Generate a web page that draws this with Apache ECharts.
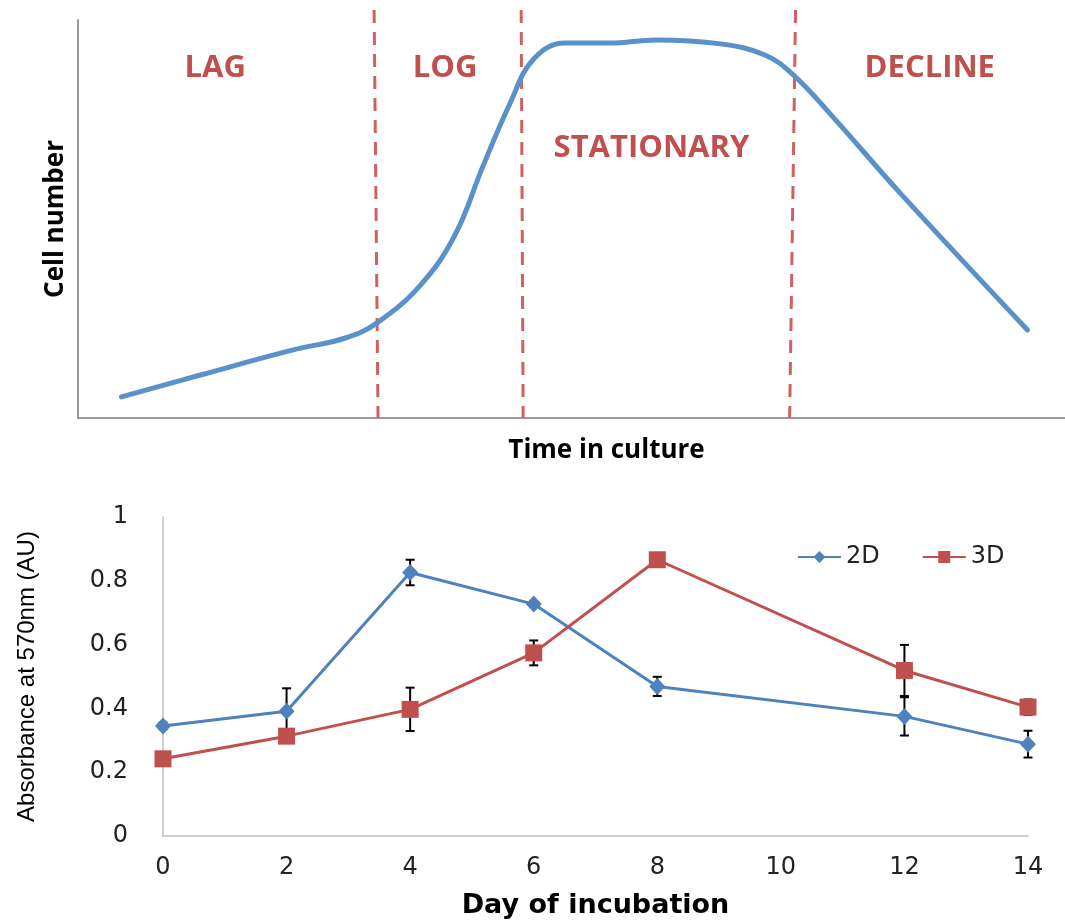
<!DOCTYPE html>
<html><head><meta charset="utf-8">
<script src="https://cdn.jsdelivr.net/npm/echarts@6/dist/echarts.min.js"></script>
<style>html,body{margin:0;padding:0;background:#fff}#c{width:1065px;height:920px}</style>
</head><body><div id="c"></div>
<script>
// ---- Top schematic: growth curve (arbitrary units, time 0-100, cell number 0-100)
const curveTime  = [4.4,12.4,21.8,27.1,30.3,34.7,38.2,41.0,43.8,46.1,49.3,53.9,58.5,65.1,69.6,72.6,76.5,83.3,96.2];
const curveCells = [5.3,10.8,17.1,20.1,23.9,33.4,46.0,63.1,79.2,90.0,94.2,94.2,95.0,94.0,91.2,85.9,75.6,56.5,22.1];
const phaseNames = ['LAG','LOG','STATIONARY','DECLINE'];
const phaseLabelTime = [13.9,37.2,58.1,86.3];
const phaseLabelCells = [87.9,87.9,67.8,87.9];
const boundaryTop = [30.0,44.9,72.7];
const boundaryBottom = [30.4,45.1,72.1];

// ---- Bottom chart: absorbance vs day
const days = [0,2,4,6,8,12,14];
const abs2D = [0.345,0.391,0.826,0.727,0.469,0.375,0.288];
const err2D = [0.010,0.072,0.040,0.008,0.030,0.060,0.042];
const abs3D = [0.242,0.313,0.397,0.574,0.866,0.519,0.404];
const err3D = [0.020,0.018,0.068,0.039,0.004,0.080,0.024];

const RED = '#C0504D', BLUE = '#4F81BD', DASH = '#D0615E';

function pairs(xs, ys){ return xs.map((x,i)=>[x, ys[i]]); }
function errData(xs, ys, es){ return xs.map((x,i)=>[x, ys[i], es[i]]); }
function errRender(params, api){
  const x = api.value(0), m = api.value(1), e = api.value(2);
  const top = api.coord([x, m+e]), bot = api.coord([x, m-e]);
  const w = 4.5;
  const st = {stroke:'#000', lineWidth:2};
  return {type:'group', children:[
    {type:'line', shape:{x1:top[0],y1:top[1],x2:bot[0],y2:bot[1]}, style:st},
    {type:'line', shape:{x1:top[0]-w,y1:top[1],x2:top[0]+w,y2:top[1]}, style:st},
    {type:'line', shape:{x1:bot[0]-w,y1:bot[1],x2:bot[0]+w,y2:bot[1]}, style:st}
  ]};
}

const boundarySeries = boundaryTop.map((t,i)=>({
  type:'line', xAxisIndex:0, yAxisIndex:0, clip:false, symbol:'none', silent:true,
  data:[[t,102.5],[boundaryBottom[i],0]],
  lineStyle:{color:DASH, width:3, type:[13,9]}, z:3
}));

const chart = echarts.init(document.getElementById('c'));
chart.setOption({
  animation:false,
  grid:[
    {left:78, top:20, width:987, height:398},
    {left:163, top:517, width:865, height:319}
  ],
  legend:{
    data:['2D','3D'], left:792, top:540, itemWidth:43, itemHeight:15, itemGap:42,
    textStyle:{fontFamily:'DejaVu Sans', fontSize:24, color:'#222'}
  },
  xAxis:[
    {gridIndex:0, type:'value', min:0, max:100, axisTick:{show:false}, axisLabel:{show:false}, splitLine:{show:false},
     axisLine:{lineStyle:{color:'#9a9a9a', width:2}},
     name:'Time in culture', nameLocation:'middle', nameGap:20,
     nameTextStyle:{fontFamily:'Open Sans', fontWeight:'bold', fontSize:26, color:'#000', padding:[0,0,0,70]}},
    {gridIndex:1, type:'value', min:0, max:14, interval:2, splitLine:{show:false}, axisTick:{show:false},
     axisLine:{lineStyle:{color:'#bfbfbf', width:1.5}},
     axisLabel:{fontFamily:'DejaVu Sans', fontSize:24, color:'#222', margin:20},
     name:'Day of incubation', nameLocation:'middle', nameGap:56,
     nameTextStyle:{fontFamily:'DejaVu Sans', fontWeight:'bold', fontSize:27, color:'#000'}}
  ],
  yAxis:[
    {gridIndex:0, type:'value', min:0, max:100, axisTick:{show:false}, axisLabel:{show:false}, splitLine:{show:false},
     axisLine:{show:true, lineStyle:{color:'#9a9a9a', width:2}},
     name:'Cell number', nameLocation:'middle', nameGap:9, nameRotate:90,
     nameTextStyle:{fontFamily:'Open Sans', fontWeight:'bold', fontSize:26, color:'#000'}},
    {gridIndex:1, type:'value', min:0, max:1, interval:0.2, splitLine:{show:false}, axisTick:{show:false},
     axisLine:{show:true, lineStyle:{color:'#bfbfbf', width:1.5}},
     axisLabel:{fontFamily:'DejaVu Sans', fontSize:24, color:'#222', margin:35},
     name:'Absorbance at 570nm (AU)', nameLocation:'middle', nameGap:124, nameRotate:90,
     nameTextStyle:{fontFamily:'Liberation Sans', fontSize:24, color:'#000'}}
  ],
  series:[
    {type:'line', xAxisIndex:0, yAxisIndex:0, data:pairs(curveTime, curveCells), smooth:0.4, symbol:'none',
     lineStyle:{color:'#5B91CB', width:5, cap:'round'}, z:4, silent:true},
    ...boundarySeries,
    {type:'scatter', xAxisIndex:0, yAxisIndex:0, symbolSize:1, itemStyle:{color:'rgba(0,0,0,0)', opacity:1}, silent:true,
     data:phaseNames.map((n,i)=>({value:[phaseLabelTime[i], phaseLabelCells[i]], name:n})),
     label:{show:true, position:'inside', formatter:'{b}', fontFamily:'Open Sans', fontWeight:'bold', fontSize:31, color:RED, opacity:1}},
    {type:'custom', xAxisIndex:1, yAxisIndex:1, renderItem:errRender, data:errData(days, abs2D, err2D), z:1, silent:true},
    {type:'custom', xAxisIndex:1, yAxisIndex:1, renderItem:errRender, data:errData(days, abs3D, err3D), z:1, silent:true},
    {name:'2D', type:'line', xAxisIndex:1, yAxisIndex:1, data:pairs(days, abs2D), symbol:'diamond', symbolSize:[16,17],
     lineStyle:{color:BLUE, width:3}, itemStyle:{color:BLUE}, z:3},
    {name:'3D', type:'line', xAxisIndex:1, yAxisIndex:1, data:pairs(days, abs3D), symbol:'rect', symbolSize:17,
     lineStyle:{color:RED, width:3}, itemStyle:{color:RED}, z:4}
  ]
});
</script></body></html>
